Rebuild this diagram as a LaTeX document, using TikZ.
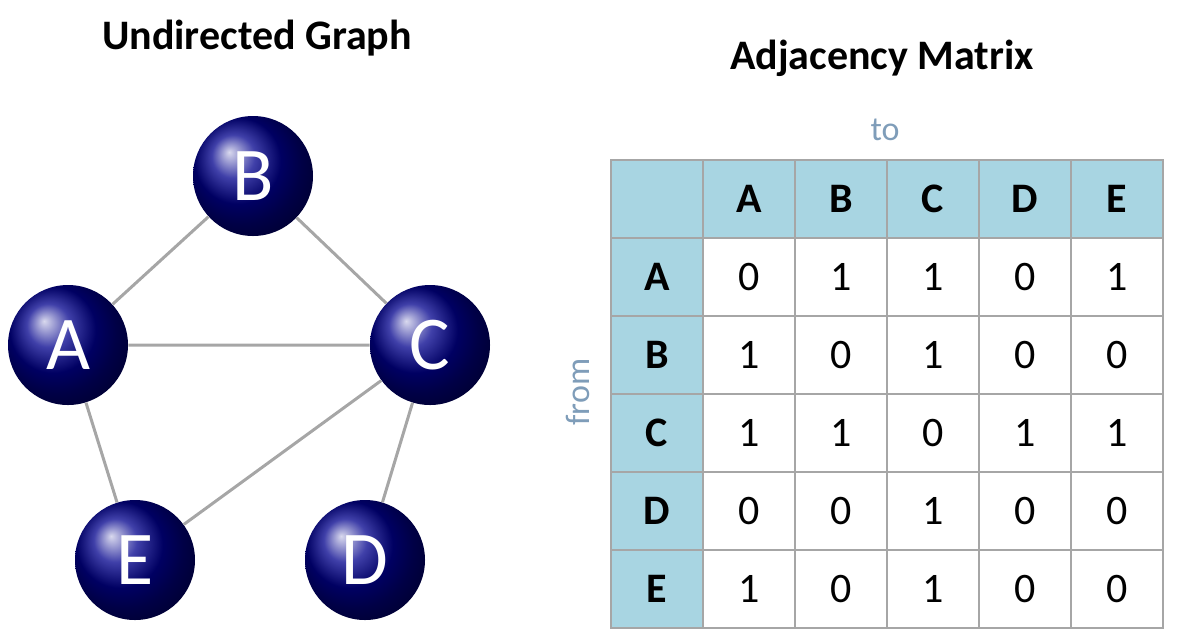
\documentclass[tikz,border=0pt]{standalone}
\usepackage{fontspec}
\setmainfont{Carlito}
\usetikzlibrary{positioning,shapes}
\definecolor{hdr}{HTML}{A8D5E2}
\definecolor{lbl}{HTML}{7F9DB9}
\tikzset{
  vert/.style={circle, minimum size=60pt, ball color=blue!55!black, text=white, font=\fontsize{38}{38}\selectfont, inner sep=0pt},
  edge/.style={draw=gray!70, line width=1.5pt},
  cell/.style={draw=gray!70, line width=1pt, minimum width=46pt, minimum height=39pt, font=\fontsize{21}{21}\selectfont},
  head/.style={cell, fill=hdr, font=\bfseries\fontsize{21}{21}\selectfont}
}
\begin{document}
\begin{tikzpicture}[x=0.5pt,y=-0.5pt]
\useasboundingbox (0,0) rectangle (1198,628);
% graph
\node[font=\bfseries\fontsize{21}{21}\selectfont] (gtitle) at (257,38) {Undirected Graph};
\node[vert] (B) at (253,176) {B};
\node[vert] (A) at (68,345) {A};
\node[vert] (C) at (430,345) {C};
\node[vert] (E) at (135,560) {E};
\node[vert] (D) at (365,560) {D};
\draw[edge] (A) -- (B) (B) -- (C) (A) -- (C) (A) -- (E) (E) -- (C) (C) -- (D);
% matrix
\node[font=\bfseries\fontsize{21}{21}\selectfont] (mtitle) at (882,58) {Adjacency Matrix};
\node[text=lbl, font=\fontsize{17}{17}\selectfont] (to) at (885,130) {to};
\node[text=lbl, font=\fontsize{17}{17}\selectfont, rotate=90] (from) at (578,392) {from};
\node[head] (h0) at (657,199) {};
\foreach \l [count=\i] in {A,B,C,D,E}{
  \node[head] (c\i) at (657+\i*92,199) {\l};
  \node[head] (r\i) at (657,199+\i*78) {\l};
}
\foreach \row [count=\j] in {{0,1,1,0,1},{1,0,1,0,0},{1,1,0,1,1},{0,0,1,0,0},{1,0,1,0,0}}
  \foreach \v [count=\i] in \row
    \node[cell] (m\j\i) at (657+\i*92,199+\j*78) {\v};
\end{tikzpicture}
\end{document}
